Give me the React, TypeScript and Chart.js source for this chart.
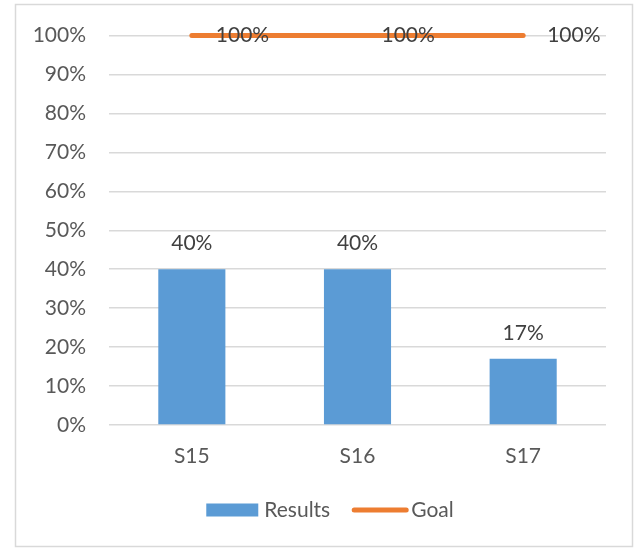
import React, { useEffect, useRef } from 'react';
import { Chart, registerables } from 'chart.js';

Chart.register(...registerables);

const categories = ['S15', 'S16', 'S17'];
const resultsValues = [40, 40, 17];
const goalValues = [100, 100, 100];
const yMin = 0;
const yMax = 100;
const yStep = 10;

const FONT = 'Lato, Carlito, Calibri, sans-serif';
const FONT_SIZE = 21;

const framePlugin = {
  id: 'frame',
  beforeDraw(chart: any) {
    const { ctx, width, height } = chart;
    ctx.save();
    ctx.fillStyle = '#ffffff';
    ctx.fillRect(0, 0, width, height);
    ctx.strokeStyle = '#d9d9d9';
    ctx.lineWidth = 1.5;
    ctx.strokeRect(15.5, 4.5, 617, 542);
    ctx.restore();
  },
};

const labelPlugin = {
  id: 'valueLabels',
  afterDatasetsDraw(chart: any) {
    const { ctx } = chart;
    ctx.save();
    ctx.font = `${FONT_SIZE}px ${FONT}`;
    ctx.fillStyle = '#404040';
    ctx.textBaseline = 'middle';
    chart.data.datasets.forEach((ds: any, i: number) => {
      const meta = chart.getDatasetMeta(i);
      meta.data.forEach((el: any, j: number) => {
        const txt = `${ds.data[j]}%`;
        if (ds.type === 'line') {
          ctx.textAlign = 'left';
          ctx.fillText(txt, el.x + 24, el.y);
        } else {
          ctx.textAlign = 'center';
          ctx.fillText(txt, el.x, el.y - 26);
        }
      });
    });
    ctx.restore();
  },
};

// Custom legend drawn under the x axis: a filled box for bars, a thick line for lines.
const legendPlugin = {
  id: 'customLegend',
  afterDraw(chart: any) {
    const { ctx } = chart;
    const boxW = 52;
    const boxH = 13;
    const lineW = 56;
    const gapAfterBox = 6;
    const gapAfterLine = 3;
    const itemGap = 22;
    ctx.save();
    ctx.font = `${FONT_SIZE}px ${FONT}`;
    ctx.textBaseline = 'middle';
    ctx.textAlign = 'left';
    const items = chart.data.datasets.map((ds: any) => {
      const isLine = ds.type === 'line';
      const tw = ctx.measureText(ds.label).width;
      const markW = isLine ? lineW : boxW;
      const gap = isLine ? gapAfterLine : gapAfterBox;
      return { ds, isLine, tw, markW, gap, w: markW + gap + tw };
    });
    const total = items.reduce((s: number, it: any) => s + it.w, 0) + itemGap * (items.length - 1);
    const cx = 330;
    const cy = chart.chartArea.bottom + 85;
    let x = cx - total / 2;
    items.forEach((it: any) => {
      if (it.isLine) {
        ctx.strokeStyle = it.ds.borderColor;
        ctx.lineWidth = it.ds.borderWidth;
        ctx.lineCap = 'round';
        ctx.beginPath();
        ctx.moveTo(x + 2, cy);
        ctx.lineTo(x + it.markW - 2, cy);
        ctx.stroke();
      } else {
        ctx.fillStyle = it.ds.backgroundColor;
        ctx.fillRect(x, cy - boxH / 2, it.markW, boxH);
      }
      ctx.fillStyle = '#595959';
      ctx.fillText(it.ds.label, x + it.markW + it.gap, cy);
      x += it.w + itemGap;
    });
    ctx.restore();
  },
};

export default function App() {
  const ref = useRef<HTMLCanvasElement>(null);
  useEffect(() => {
    if (!ref.current) return;
    const chart = new Chart(ref.current, {
      type: 'bar',
      data: {
        labels: categories,
        datasets: [
          {
            type: 'bar',
            label: 'Results',
            data: resultsValues,
            backgroundColor: '#5b9bd5',
            borderWidth: 0,
            categoryPercentage: 1,
            barPercentage: 0.405,
          } as any,
          {
            type: 'line',
            label: 'Goal',
            data: goalValues,
            borderColor: '#ed7d31',
            backgroundColor: '#ed7d31',
            borderWidth: 5,
            borderCapStyle: 'round',
            pointRadius: 0,
            pointHoverRadius: 0,
            fill: false,
            clip: false,
          } as any,
        ],
      },
      options: {
        responsive: false,
        animation: false,
        events: [],
        layout: { padding: { left: 26, right: 29, top: 34, bottom: 60 } },
        plugins: {
          tooltip: { enabled: false },
          legend: { display: false },
        },
        scales: {
          x: {
            grid: { display: false, drawTicks: false },
            border: { display: false },
            ticks: {
              color: '#595959',
              padding: 19,
              font: { family: FONT, size: FONT_SIZE },
            },
            afterFit(scale: any) {
              scale.height = 64;
            },
          },
          y: {
            min: yMin,
            max: yMax,
            grid: { color: '#d9d9d9', lineWidth: 1.5, drawTicks: false },
            border: { display: false },
            ticks: {
              stepSize: yStep,
              color: '#595959',
              padding: 23,
              font: { family: FONT, size: FONT_SIZE },
              callback: (v: any) => `${v}%`,
            },
            afterFit(scale: any) {
              scale.width = 83;
            },
          },
        },
      },
      plugins: [framePlugin, labelPlugin, legendPlugin],
    });
    return () => chart.destroy();
  }, []);
  return (
    <div style={{ position: 'absolute', left: 0, top: 0, width: 635, height: 549 }}>
      <canvas ref={ref} width={635} height={549} style={{ display: 'block', width: 635, height: 549 }} />
    </div>
  );
}
